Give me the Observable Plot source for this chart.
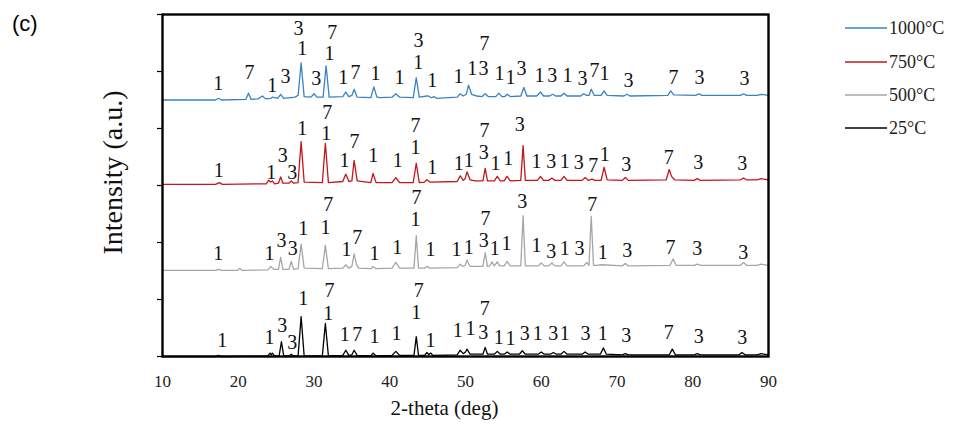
<!DOCTYPE html>
<html><head><meta charset="utf-8">
<script src="https://cdn.jsdelivr.net/npm/d3@7"></script>
<script src="https://cdn.jsdelivr.net/npm/@observablehq/plot@0.6"></script>
<style>
body{margin:0;background:#fff;}
#wrap{position:relative;width:955px;height:427px;overflow:hidden;}
#panel{position:absolute;left:12px;top:11px;font-family:"Liberation Sans",Arial,sans-serif;font-size:22px;color:#000;}
.leg{position:absolute;left:845px;height:20px;display:flex;align-items:center;font-family:"Liberation Serif","Times New Roman",serif;font-size:18px;color:#222;}
.leg svg{margin-right:2px;}
</style></head><body><div id="wrap"><div id="panel">(c)</div></div>
<script>
const xTicks = [10,20,30,40,50,60,70,80,90];
const yTicks = [0,1,2,3,4,5,6];
const seriesNames = ["1000°C","750°C","500°C","25°C"];
const seriesColors = ["#3b82c4","#c4161c","#a6a6a6","#000000"];
const seriesOffsets = [4.5, 3.0, 1.5, 0];
const xTitle = "2-theta (deg)";
const yTitle = "Intensity (a.u.)";

// [2θ, intensity above the series offset]
const pattern1000 = [[10,0],[17,0],[17.4,0.03],[17.8,0],[21,0.01],[21.35,0.12],[21.7,0.01],[22.6,0.02],[23.2,0.07],[23.6,0.02],[24.3,0.03],[24.5,0.05],[25.2,0.03],[25.6,0.10],[26,0.03],[27.5,0.05],[27.9,0.08],[28.3,0.65],[28.7,0.06],[29.6,0.05],[30,0.11],[30.4,0.05],[31.2,0.05],[31.6,0.60],[32,0.05],[33.8,0.06],[34.2,0.14],[34.6,0.06],[35,0.08],[35.3,0.19],[35.7,0.05],[37.5,0.04],[37.9,0.23],[38.3,0.05],[38.8,0.04],[40.3,0.05],[40.8,0.11],[41.3,0.05],[43.1,0.04],[43.5,0.39],[43.9,0.05],[44.9,0.07],[45.1,0.07],[45.5,0.04],[45.8,0.06],[46.2,0.03],[48.9,0.05],[49.3,0.11],[49.7,0.07],[50.1,0.10],[50.4,0.26],[50.8,0.10],[51.5,0.07],[52.2,0.06],[52.6,0.11],[53,0.06],[54,0.06],[54.4,0.12],[54.8,0.06],[55.2,0.06],[55.5,0.10],[55.9,0.06],[57.3,0.07],[57.7,0.22],[58.1,0.07],[59.4,0.07],[59.9,0.14],[60.3,0.07],[61.1,0.07],[61.5,0.10],[61.9,0.07],[62.6,0.07],[63,0.12],[63.4,0.07],[65.2,0.07],[65.6,0.11],[66,0.08],[66.3,0.08],[66.6,0.19],[67,0.08],[67.9,0.08],[68.3,0.16],[68.7,0.08],[70.9,0.07],[71.3,0.10],[71.7,0.07],[76.7,0.08],[77.1,0.16],[77.5,0.09],[80.4,0.08],[80.8,0.11],[81.2,0.08],[86.3,0.08],[86.7,0.11],[87.1,0.08],[88.5,0.08],[89,0.10],[90,0.08]];
const pattern750 = [[10,0.02],[17,0.02],[17.5,0.05],[17.9,0.02],[23.7,0.03],[24,0.09],[24.3,0.06],[24.5,0.08],[24.8,0.03],[25.3,0.04],[25.6,0.15],[25.9,0.04],[26.7,0.04],[27,0.08],[27.3,0.04],[27.9,0.05],[28.3,0.77],[28.7,0.06],[31.1,0.05],[31.5,0.74],[31.9,0.05],[33.8,0.07],[34.2,0.20],[34.6,0.07],[35,0.08],[35.3,0.44],[35.7,0.08],[37.5,0.05],[37.8,0.21],[38.2,0.05],[40.3,0.05],[40.8,0.14],[41.3,0.05],[43.1,0.05],[43.5,0.39],[43.9,0.05],[44.6,0.06],[44.9,0.10],[45.3,0.06],[48.9,0.07],[49.3,0.17],[49.7,0.09],[49.95,0.12],[50.2,0.24],[50.6,0.10],[51.3,0.08],[52.3,0.08],[52.6,0.30],[52.9,0.08],[53.8,0.08],[54.2,0.16],[54.6,0.08],[55.1,0.08],[55.5,0.16],[55.9,0.08],[57.3,0.09],[57.6,0.70],[57.9,0.09],[59.5,0.09],[59.9,0.16],[60.3,0.09],[61,0.09],[61.4,0.13],[61.8,0.09],[62.6,0.09],[63,0.16],[63.4,0.09],[65.4,0.09],[65.8,0.14],[66.2,0.09],[66.7,0.11],[67.1,0.09],[67.9,0.09],[68.3,0.32],[68.7,0.10],[70.7,0.09],[71.1,0.14],[71.5,0.09],[76.5,0.10],[76.9,0.28],[77.2,0.16],[77.6,0.10],[80.2,0.09],[80.6,0.12],[81,0.09],[86.3,0.10],[86.7,0.13],[87.1,0.10],[88.5,0.10],[89,0.12],[90,0.10]];
const pattern500 = [[10,0.01],[17,0.01],[17.4,0.03],[17.8,0.01],[19.9,0.01],[20.2,0.05],[20.5,0.01],[23.9,0.02],[24.3,0.08],[24.7,0.03],[25.3,0.03],[25.6,0.24],[25.9,0.03],[26.7,0.03],[27,0.17],[27.3,0.03],[27.9,0.04],[28.3,0.47],[28.7,0.05],[31.1,0.04],[31.5,0.45],[31.9,0.04],[33.8,0.05],[34.2,0.11],[34.6,0.05],[35,0.08],[35.3,0.30],[35.6,0.12],[35.9,0.05],[37.5,0.04],[37.8,0.08],[38.2,0.04],[40.3,0.05],[40.8,0.15],[41.3,0.05],[43.2,0.05],[43.5,0.62],[43.8,0.05],[44.6,0.05],[44.9,0.08],[45.3,0.05],[48.9,0.06],[49.3,0.12],[49.7,0.08],[49.95,0.10],[50.2,0.19],[50.6,0.08],[52.3,0.08],[52.6,0.32],[52.9,0.08],[53.2,0.09],[53.5,0.16],[53.8,0.09],[54.2,0.16],[54.5,0.09],[55.1,0.09],[55.5,0.17],[55.9,0.09],[57.3,0.09],[57.6,0.97],[57.9,0.09],[59.6,0.09],[60,0.14],[60.4,0.09],[61,0.09],[61.4,0.14],[61.8,0.09],[62.6,0.09],[63,0.16],[63.4,0.09],[65.6,0.09],[66,0.15],[66.3,0.10],[66.6,0.96],[66.9,0.10],[67.3,0.10],[68,0.11],[70.7,0.09],[71.1,0.13],[71.5,0.09],[77,0.10],[77.4,0.21],[77.8,0.10],[80.2,0.10],[80.6,0.12],[81,0.10],[86.3,0.10],[86.7,0.15],[87.1,0.10],[88.5,0.10],[89,0.12],[90,0.10]];
const pattern25 = [[10,0],[17,0],[17.4,0.02],[17.8,0],[23.9,0.01],[24.2,0.06],[24.35,0.03],[24.5,0.06],[24.8,0.01],[25.4,0.01],[25.7,0.26],[26,0.01],[26.7,0.01],[27,0.04],[27.3,0.01],[27.9,0.01],[28.3,0.70],[28.7,0.01],[31.1,0.01],[31.5,0.58],[31.9,0.01],[33.8,0.02],[34.2,0.11],[34.6,0.02],[35,0.03],[35.3,0.11],[35.7,0.02],[37.5,0.01],[37.8,0.06],[38.2,0.01],[40.3,0.02],[40.8,0.09],[41.3,0.02],[43.2,0.02],[43.5,0.35],[43.8,0.02],[44.6,0.02],[44.9,0.07],[45.15,0.03],[45.4,0.06],[45.7,0.02],[48.9,0.03],[49.3,0.11],[49.7,0.05],[50,0.08],[50.2,0.13],[50.6,0.04],[52.3,0.04],[52.6,0.16],[52.9,0.04],[53.8,0.04],[54.2,0.09],[54.6,0.04],[55.1,0.04],[55.5,0.08],[55.9,0.04],[57.1,0.04],[57.5,0.10],[57.9,0.04],[59.6,0.04],[60,0.08],[60.4,0.04],[61.2,0.04],[61.6,0.07],[62,0.04],[62.6,0.04],[63,0.09],[63.4,0.04],[65.4,0.04],[65.8,0.08],[66.2,0.04],[67.8,0.04],[68.2,0.15],[68.6,0.04],[70.7,0.03],[71.1,0.05],[71.5,0.03],[76.9,0.03],[77.3,0.13],[77.7,0.03],[80.2,0.03],[80.6,0.05],[81,0.03],[86.1,0.03],[86.5,0.07],[86.9,0.03],[88.5,0.03],[89,0.05],[90,0.03]];

// peak labels [text, 2θ, intensity]
const labels1000 = [["1",17.35,4.79],["7",21.48,4.98],["1",24.48,4.75],["3",26.24,4.91],["3",27.95,5.75],["1",28.44,5.40],["3",30.29,4.88],["7",32.40,5.68],["1",32.05,5.32],["1",33.85,4.89],["7",35.48,4.98],["1",38.12,4.96],["1",41.29,4.89],["3",43.80,5.54],["1",43.75,5.16],["1",45.60,4.84],["1",49.08,4.91],["1",50.88,5.05],["3",52.37,5.05],["7",52.51,5.49],["1",54.49,4.96],["1",55.94,4.89],["3",57.39,5.05],["1",59.77,4.93],["3",61.45,4.93],["1",63.46,4.93],["3",65.44,4.88],["7",67.03,5.02],["1",68.35,4.96],["3",71.52,4.84],["7",77.46,4.89],["3",80.89,4.89],["3",86.83,4.88]];
const labels750 = [["1",17.43,3.26],["1",24.35,3.23],["3",25.88,3.53],["3",27.12,3.23],["1",28.44,4.00],["7",31.74,4.28],["1",31.61,3.91],["1",34.03,3.44],["7",35.35,3.77],["1",37.81,3.53],["1",41.06,3.44],["7",43.40,4.05],["1",43.40,3.67],["1",45.60,3.32],["1",49.11,3.39],["1",50.43,3.44],["7",52.51,3.96],["3",52.41,3.58],["1",53.96,3.39],["1",55.64,3.47],["3",57.17,4.07],["1",59.37,3.42],["3",61.31,3.42],["1",63.11,3.42],["3",64.96,3.40],["7",66.86,3.35],["1",68.39,3.54],["3",71.21,3.37],["7",76.84,3.49],["3",80.72,3.40],["3",86.53,3.39]];
const labels500 = [["1",17.35,1.81],["1",24.12,1.81],["3",25.71,2.04],["3",27.20,1.89],["1",28.57,2.25],["7",31.87,2.67],["1",31.52,2.26],["1",34.29,1.88],["7",35.70,2.09],["1",37.99,1.81],["1",40.98,1.91],["7",43.53,2.79],["1",43.40,2.40],["1",45.38,1.88],["1",48.81,1.88],["1",50.43,1.91],["7",52.64,2.42],["3",52.41,2.03],["1",53.87,1.89],["1",55.41,1.98],["3",57.48,2.72],["1",59.37,1.95],["3",61.31,1.84],["1",63.11,1.89],["3",65.05,1.89],["7",66.73,2.67],["1",68.12,1.82],["3",71.34,1.86],["7",77.06,1.91],["3",80.59,1.89],["3",86.66,1.82]];
const labels25 = [["1",17.88,0.28],["1",24.12,0.33],["3",25.80,0.54],["3",27.12,0.25],["1",28.57,1.02],["7",32.05,1.16],["1",31.87,0.75],["1",34.07,0.39],["7",35.70,0.39],["1",37.99,0.35],["1",40.89,0.40],["7",43.83,1.16],["1",43.49,0.77],["1",45.38,0.28],["1",48.98,0.46],["1",50.66,0.49],["7",52.55,0.84],["3",52.34,0.42],["1",54.40,0.33],["1",55.94,0.32],["3",57.83,0.40],["1",59.54,0.40],["3",61.58,0.40],["1",63.11,0.40],["3",65.84,0.40],["1",68.12,0.40],["3",71.21,0.37],["7",76.84,0.42],["3",80.80,0.35],["3",86.53,0.33]];

const patterns = [pattern1000, pattern750, pattern500, pattern25];
const labelSets = [labels1000, labels750, labels500, labels25];

const rows = [];
patterns.forEach((p, k) => p.forEach(([t, v]) => rows.push({series: seriesNames[k], t, v: seriesOffsets[k] + v})));
const labelRows = [];
labelSets.forEach(s => s.forEach(([text, t, v]) => labelRows.push({text, t, v})));

const serif = "'Liberation Serif','Times New Roman',serif";
const plot = Plot.plot({
  width: 955, height: 427,
  marginLeft: 162, marginRight: 187, marginTop: 14, marginBottom: 71,
  style: {fontFamily: serif, background: "transparent", color: "#222"},
  x: {domain: [10, 90]},
  y: {domain: [0, 6]},
  color: {domain: seriesNames, range: seriesColors},
  marks: [
    Plot.axisY({ticks: yTicks, tickSize: 5, tickFormat: () => "", label: null, stroke: "#000", strokeWidth: 1.2}),
    Plot.axisX({ticks: xTicks, tickSize: 0, tickPadding: 18, fontSize: 17, label: null}),
    Plot.line(rows, {x: "t", y: "v", z: "series", stroke: "series", strokeWidth: 1.3}),
    Plot.text(labelRows, {x: "t", y: "v", text: "text", fontSize: 20, fill: "#111"}),
    Plot.frame({stroke: "#000", strokeWidth: 2.4}),
    Plot.text([yTitle], {text: d => d, frameAnchor: "left", textAnchor: "middle", lineAnchor: "middle", rotate: -90, dx: -49, dy: -13, fontSize: 28, fill: "#111"}),
    Plot.text([xTitle], {text: d => d, frameAnchor: "bottom", textAnchor: "middle", lineAnchor: "middle", dy: 52, dx: -21, fontSize: 21, fill: "#111"})
  ]
});
const wrap = document.getElementById("wrap");
wrap.insertBefore(plot, wrap.firstChild);

const legTops = [28, 62, 95, 128];
seriesNames.forEach((name, i) => {
  const d = document.createElement("div");
  d.className = "leg";
  d.style.top = (legTops[i] - 10) + "px";
  d.innerHTML = `<svg width="42" height="4"><line x1="0" y1="2" x2="42" y2="2" stroke="${seriesColors[i]}" stroke-width="1.3"/></svg><span>${name}</span>`;
  wrap.appendChild(d);
});
</script></body></html>
